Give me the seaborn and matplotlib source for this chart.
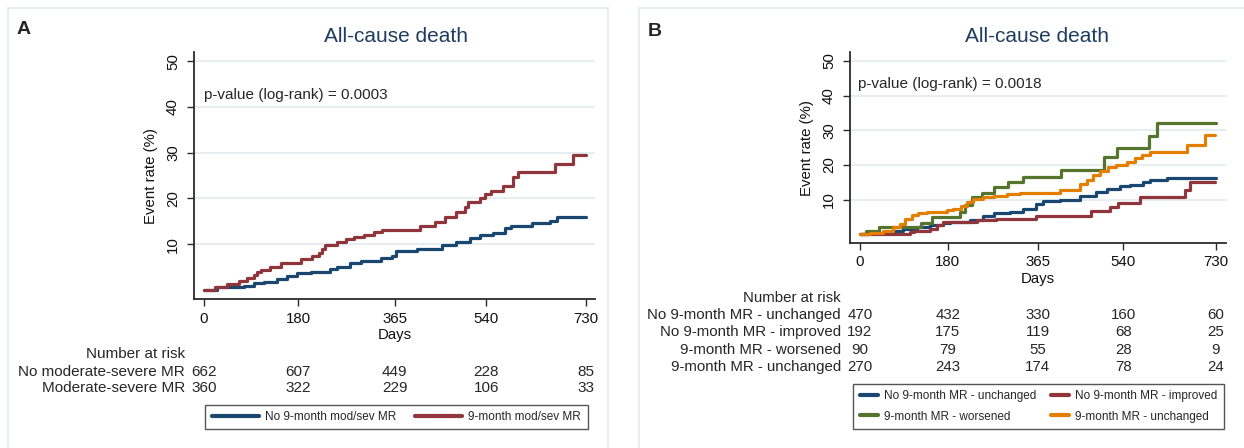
import pandas as pd
import seaborn as sns
import matplotlib.pyplot as plt
from matplotlib.lines import Line2D
from matplotlib.patches import Rectangle
from matplotlib import transforms

# ---- panel A: cumulative event rate (%) ----
a_no_days = [0, 25, 76, 96, 115, 140, 159, 178, 204, 242, 254, 280, 300, 338, 360, 368,
             407, 455, 483, 509, 528, 553, 576, 588, 627, 662, 675, 730]
a_no_rate = [0, 0.6, 0.9, 1.45, 1.8, 2.4, 3.05, 3.6, 4.0, 4.5, 5.1, 5.8, 6.2, 6.9, 7.5, 8.4,
             8.9, 9.7, 10.5, 11.4, 12.0, 12.4, 13.5, 14.0, 14.6, 15.1, 15.9, 15.9]
a_mr_days = [0, 22, 44, 67, 82, 96, 101, 109, 127, 147, 185, 207, 220, 226, 232, 254, 271,
             287, 306, 325, 340, 413, 442, 461, 483, 499, 505, 528, 537, 550, 572, 592,
             600, 672, 706, 730]
a_mr_rate = [0, 0.73, 1.24, 2.0, 2.6, 3.3, 4.0, 4.4, 5.1, 5.8, 6.7, 7.4, 8.0, 9.0, 9.8, 10.5,
             11.1, 11.6, 12.0, 12.7, 13.1, 14.0, 14.9, 16.0, 17.1, 18.2, 19.3, 20.0, 20.9,
             21.7, 22.7, 24.6, 25.8, 27.5, 29.5, 29.5]
a_groups = ['No 9-month mod/sev MR', '9-month mod/sev MR']
a_risk_rows = ['No moderate-severe MR', 'Moderate-severe MR']
a_risk = [[662, 607, 449, 228, 85],
          [360, 322, 229, 106, 33]]

# ---- panel B ----
b_unch_days = [0, 20, 48, 68, 89, 116, 144, 171, 185, 226, 253, 274, 308, 335, 362, 376,
               410, 451, 485, 506, 533, 554, 581, 595, 629, 730]
b_unch_rate = [0, 0.3, 0.65, 1.1, 1.6, 2.1, 2.6, 3.2, 3.7, 4.2, 5.2, 6.1, 6.4, 7.4, 8.8, 9.5,
               10.0, 11.2, 12.2, 13.2, 13.9, 14.1, 15.1, 15.6, 16.3, 16.3]
b_impr_days = [0, 103, 110, 144, 157, 171, 240, 280, 362, 475, 513, 530, 574, 666, 677, 728]
b_impr_rate = [0, 0.65, 1.0, 1.6, 2.6, 3.5, 4.0, 4.5, 5.3, 6.7, 7.9, 9.0, 10.8, 12.7, 15.1, 15.1]
b_wors_days = [0, 12, 40, 126, 147, 205, 215, 229, 250, 274, 304, 335, 412, 500, 528, 593,
               610, 730]
b_wors_rate = [0, 1.1, 2.1, 3.4, 4.9, 6.4, 8.4, 10.8, 12.0, 13.7, 15.1, 16.5, 18.5, 22.3,
               24.9, 28.3, 32.0, 32.0]
b_mr_days = [0, 20, 48, 68, 82, 92, 106, 119, 137, 178, 191, 208, 219, 232, 253, 274, 301,
             328, 410, 451, 465, 478, 492, 509, 526, 547, 564, 578, 595, 671, 707, 728]
b_mr_rate = [0, 0.35, 1.1, 2.1, 3.1, 4.3, 5.5, 6.1, 6.4, 6.9, 7.4, 8.1, 9.3, 10.3, 10.8, 11.2,
             11.7, 12.0, 12.9, 14.4, 15.6, 17.0, 18.3, 19.3, 19.9, 20.9, 21.9, 22.8, 23.8,
             25.8, 28.6, 28.6]
b_groups = ['No 9-month MR - unchanged', 'No 9-month MR - improved',
            '9-month MR - worsened', '9-month MR - unchanged']
b_risk = [[470, 432, 330, 160, 60],
          [192, 175, 119, 68, 25],
          [90, 79, 55, 28, 9],
          [270, 243, 174, 78, 24]]

risk_days = [0, 180, 365, 540, 730]
navy, maroon, green, orange = '#1a476f', '#90353b', '#55752f', '#e37e00'


def curves(days_list, rate_list, names):
    parts = [pd.DataFrame({'day': d, 'rate': r, 'group': n})
             for d, r, n in zip(days_list, rate_list, names)]
    return pd.concat(parts, ignore_index=True)


df_a = curves([a_no_days, a_mr_days], [a_no_rate, a_mr_rate], a_groups)
df_b = curves([b_unch_days, b_impr_days, b_wors_days, b_mr_days],
              [b_unch_rate, b_impr_rate, b_wors_rate, b_mr_rate], b_groups)

sns.set_theme(style='white')
plt.rcParams['font.family'] = ['Liberation Sans', 'DejaVu Sans']

W, H = 1244, 448
fig = plt.figure(figsize=(12.44, 4.48), dpi=100)


def fx(px):
    return px / W


def fy(py):
    return 1 - py / H


# light frames round the two panels
fig.patches.append(Rectangle((fx(8), fy(470)), fx(600), (470 - 8) / H, transform=fig.transFigure,
                             fill=False, edgecolor='#e2e9ec', lw=1.2))
fig.patches.append(Rectangle((fx(639), fy(470)), fx(620), (470 - 8) / H, transform=fig.transFigure,
                             fill=False, edgecolor='#e2e9ec', lw=1.2))


def km_panel(box, xlim, ylim, df, order, colors):
    left, top, right, bottom = box
    ax = fig.add_axes([fx(left), fy(bottom), fx(right - left), (bottom - top) / H])
    sns.lineplot(data=df, x='day', y='rate', hue='group', hue_order=order, palette=colors,
                 drawstyle='steps-post', estimator=None, linewidth=2.3, legend=False, ax=ax)
    ax.set_xlim(xlim)
    ax.set_ylim(ylim)
    ax.set_xticks(risk_days)
    ax.set_yticks([10, 20, 30, 40, 50])
    ax.yaxis.grid(True, color='#e4edf0', lw=1.3)
    ax.set_axisbelow(True)
    for s in ['top', 'right']:
        ax.spines[s].set_visible(False)
    for s in ['left', 'bottom']:
        ax.spines[s].set_color('#2b2b2b')
        ax.spines[s].set_linewidth(1.3)
    ax.tick_params(direction='out', length=5, width=1, color='#2b2b2b', labelsize=10.8,
                   labelcolor='#111111', left=True, bottom=True)
    ax.tick_params(axis='x', pad=4)
    ax.tick_params(axis='y', pad=5)
    plt.setp(ax.get_yticklabels(), rotation=90, va='center')
    ax.set_xlabel('Days', fontsize=10.8, labelpad=1.5, color='#111111')
    ax.set_ylabel('Event rate (%)', fontsize=10.8, labelpad=6, color='#111111')
    return ax


# ---- A ----
ax_a = km_panel((194, 52, 595, 299), (-19, 748), (-2, 52), df_a, a_groups, [navy, maroon])
fig.text(fx(24), fy(29), 'A', fontsize=14, fontweight='bold', ha='center', va='center')
fig.text(fx(396), fy(37), 'All-cause death', fontsize=15, color='#1f3d60', ha='center', va='center')
fig.text(fx(204), fy(95), 'p-value (log-rank) = 0.0003', fontsize=11, va='center')
tr_a = transforms.blended_transform_factory(ax_a.transData, fig.transFigure)
fig.text(fx(185), fy(354), 'Number at risk', fontsize=11, ha='right', va='center')
for i, (name, row) in enumerate(zip(a_risk_rows, a_risk)):
    yy = fy(371.7 + i * 16.6)
    fig.text(fx(185), yy, name, fontsize=11, ha='right', va='center')
    for d, n in zip(risk_days, row):
        ax_a.text(d, yy, str(n), transform=tr_a, fontsize=11, ha='center', va='center')
h_a = [Line2D([], [], color=c, lw=3) for c in [navy, maroon]]
fig.legend(h_a, a_groups, loc='center', bbox_to_anchor=(fx(396.5), fy(417)), ncol=2,
           fontsize=8.5, frameon=True, fancybox=False, edgecolor='#555555', framealpha=1,
           handlelength=4.0, handletextpad=0.5, columnspacing=1.6, borderpad=0.55)

# ---- B ----
ax_b = km_panel((850, 52, 1226, 243), (-20.5, 751), (-2.5, 52.6), df_b, b_groups,
                [navy, maroon, green, orange])
fig.text(fx(654.5), fy(31.5), 'B', fontsize=14, fontweight='bold', ha='center', va='center')
fig.text(fx(1037), fy(37), 'All-cause death', fontsize=15, color='#1f3d60', ha='center', va='center')
fig.text(fx(858), fy(84), 'p-value (log-rank) = 0.0018', fontsize=11, va='center')
tr_b = transforms.blended_transform_factory(ax_b.transData, fig.transFigure)
fig.text(fx(841), fy(297.7), 'Number at risk', fontsize=10.8, ha='right', va='center')
for i, (name, row) in enumerate(zip(b_groups, b_risk)):
    yy = fy(315 + i * 17.4)
    fig.text(fx(841), yy, name, fontsize=10.8, ha='right', va='center')
    for d, n in zip(risk_days, row):
        ax_b.text(d, yy, str(n), transform=tr_b, fontsize=10.8, ha='center', va='center')
# legend fills column by column, so order the entries to read row by row
b_colors = [navy, maroon, green, orange]
leg_order = [0, 2, 1, 3]
h_b = [Line2D([], [], color=b_colors[k], lw=3) for k in leg_order]
fig.legend(h_b, [b_groups[k] for k in leg_order], loc='center',
           bbox_to_anchor=(fx(1038.5), fy(406.5)), ncol=2,
           fontsize=8.5, frameon=True, fancybox=False, edgecolor='#555555', framealpha=1,
           handlelength=1.5, handletextpad=0.5, columnspacing=1.3, labelspacing=0.7,
           borderpad=0.55)

fig.savefig('out.png', dpi=100, facecolor='white')
